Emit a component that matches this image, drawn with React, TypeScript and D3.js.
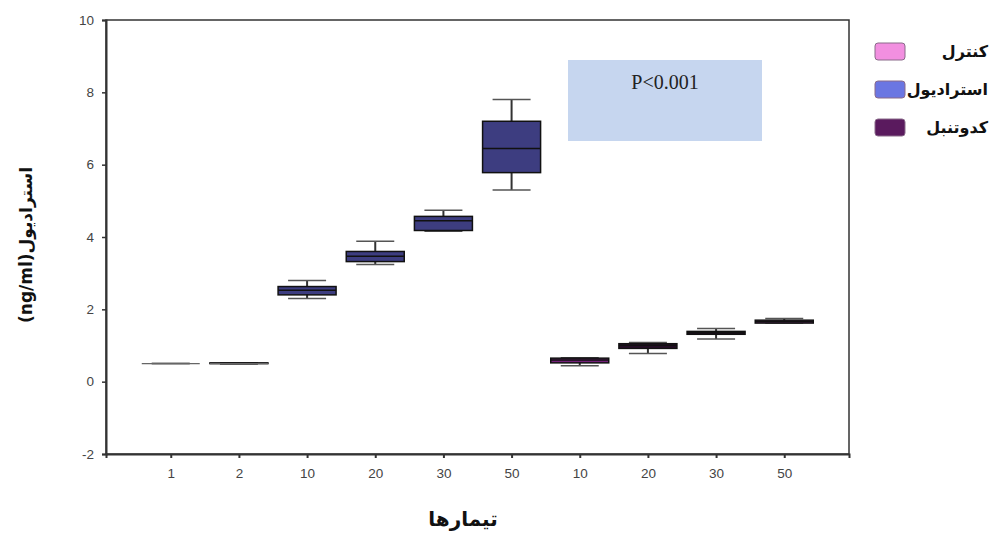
import React, { useRef, useEffect } from 'react';
import * as d3 from 'd3';

// treatment labels along the x axis (doses repeat for the two treated groups)
const doses = ['1', '2', '10', '20', '30', '50', '10', '20', '30', '50'];
const groupOf = ['control', 'control', 'estradiol', 'estradiol', 'estradiol', 'estradiol', 'kadotanbal', 'kadotanbal', 'kadotanbal', 'kadotanbal'];

// box statistics (ng/ml)
const mins = [0.5, 0.49, 2.3, 3.24, 4.16, 5.3, 0.44, 0.78, 1.18, 1.62];
const q1s = [0.5, 0.5, 2.4, 3.32, 4.18, 5.78, 0.52, 0.92, 1.31, 1.62];
const medians = [0.5, 0.5, 2.53, 3.47, 4.45, 6.45, 0.6, 1.0, 1.36, 1.66];
const q3s = [0.5, 0.52, 2.63, 3.6, 4.57, 7.2, 0.65, 1.05, 1.39, 1.7];
const maxs = [0.5, 0.52, 2.8, 3.88, 4.74, 7.8, 0.66, 1.08, 1.47, 1.75];

const yTicks = [-2, 0, 2, 4, 6, 8, 10];

const legendKeys = ['control', 'estradiol', 'kadotanbal'];
const legendLabels = ['كنترل', 'استراديول', 'كدوتنبل'];

const legendColor = { control: '#f28fe0', estradiol: '#6b76e2', kadotanbal: '#5a1a5e' };
const boxFill = ['#f28fe0', '#f28fe0', '#3d3d80', '#3d3d80', '#3d3d80', '#3d3d80', '#74207a', '#2a0d2c', '#1e0a20', '#8a2c8e'];

const App = () => {
    const svgRef = useRef(null);

    useEffect(() => {
        drawChart();
    }, []);

    const drawChart = () => {
        const svg = d3.select(svgRef.current);
        svg.selectAll('*').remove();

        const width = 993;
        const height = 535;
        const left = 106, right = 849, top = 20, bottom = 454;

        const x = d3.scalePoint()
            .domain(doses.map((d, i) => String(i)))
            .range([left, right])
            .padding(0.95);

        const y = d3.scaleLinear()
            .domain([-2, 10])
            .range([bottom, top]);

        svg.attr('width', width).attr('height', height);

        // p-value box
        svg.append('rect')
            .attr('x', 568).attr('y', 60)
            .attr('width', 194).attr('height', 81)
            .attr('fill', '#c6d6ef');
        svg.append('text')
            .attr('x', 665).attr('y', 89)
            .attr('text-anchor', 'middle')
            .style('font-family', '"Liberation Serif", serif')
            .style('font-size', '20px')
            .attr('fill', '#222')
            .text('P<0.001');

        // frame
        svg.append('rect')
            .attr('x', left).attr('y', top)
            .attr('width', right - left).attr('height', bottom - top)
            .attr('fill', 'none')
            .attr('stroke', '#333')
            .attr('stroke-width', 1.5);

        // y axis
        const yAxis = svg.append('g')
            .attr('transform', `translate(${left},0)`)
            .call(d3.axisLeft(y).tickValues(yTicks).tickSize(4).tickPadding(8).tickFormat(d => String(d)));
        yAxis.select('.domain').attr('stroke', '#333').attr('stroke-width', 2);
        yAxis.selectAll('line').attr('stroke', '#333').attr('stroke-width', 1.5);
        yAxis.selectAll('text')
            .style('font-family', '"Liberation Sans", Arial, sans-serif')
            .style('font-size', '13.5px')
            .attr('fill', '#444');

        // x axis
        const xAxis = svg.append('g')
            .attr('transform', `translate(0,${bottom})`)
            .call(d3.axisBottom(x).tickSize(4).tickPadding(10).tickFormat(i => doses[+i]));
        xAxis.select('.domain').attr('stroke', '#333').attr('stroke-width', 2);
        xAxis.selectAll('line').attr('stroke', '#333').attr('stroke-width', 2);
        xAxis.selectAll('text')
            .style('font-family', '"Liberation Sans", Arial, sans-serif')
            .style('font-size', '13.5px')
            .attr('fill', '#444');

        // boxes
        const boxW = 58;
        const capW = 38;
        const boxes = svg.append('g')
            .selectAll('g')
            .data(doses.map((d, i) => i))
            .enter().append('g')
            .attr('transform', i => `translate(${x(String(i))},0)`);

        boxes.append('line')
            .attr('x1', 0).attr('x2', 0)
            .attr('y1', i => y(maxs[i])).attr('y2', i => y(mins[i]))
            .attr('stroke', '#333').attr('stroke-width', 2);
        boxes.append('line')
            .attr('x1', -capW / 2).attr('x2', capW / 2)
            .attr('y1', i => y(maxs[i])).attr('y2', i => y(maxs[i]))
            .attr('stroke', '#555').attr('stroke-width', 1.5);
        boxes.append('line')
            .attr('x1', -capW / 2).attr('x2', capW / 2)
            .attr('y1', i => y(mins[i])).attr('y2', i => y(mins[i]))
            .attr('stroke', '#555').attr('stroke-width', 1.5);
        boxes.filter(i => q3s[i] > q1s[i]).append('rect')
            .attr('x', -boxW / 2)
            .attr('y', i => y(q3s[i]))
            .attr('width', boxW)
            .attr('height', i => y(q1s[i]) - y(q3s[i]))
            .attr('fill', i => boxFill[i])
            .attr('stroke', '#111')
            .attr('stroke-width', 1.5);
        boxes.append('line')
            .attr('x1', -boxW / 2).attr('x2', boxW / 2)
            .attr('y1', i => y(medians[i])).attr('y2', i => y(medians[i]))
            .attr('stroke', i => groupOf[i] === 'control' ? '#666' : '#111')
            .attr('stroke-width', i => groupOf[i] === 'control' ? 1.2 : 1.5);

        // legend
        const legend = svg.append('g')
            .selectAll('g')
            .data(legendKeys)
            .enter().append('g')
            .attr('transform', (d, i) => `translate(875,${43 + i * 38})`);
        legend.append('rect')
            .attr('width', 30).attr('height', 17)
            .attr('rx', 3)
            .attr('fill', d => legendColor[d])
            .attr('stroke', '#8a6a8a')
            .attr('stroke-width', 1);
        legend.append('text')
            .attr('x', 113).attr('y', 14)
            .attr('text-anchor', 'end')
            .style('font-family', '"DejaVu Sans", sans-serif')
            .style('font-weight', 'bold')
            .style('font-size', '16px')
            .attr('fill', '#111')
            .text((d, i) => legendLabels[i]);

        // axis titles
        svg.append('text')
            .attr('transform', 'translate(32,245) rotate(-90)')
            .attr('text-anchor', 'middle')
            .style('font-family', '"DejaVu Sans", sans-serif')
            .style('font-weight', 'bold')
            .style('font-size', '17px')
            .attr('fill', '#111')
            .text('(ng/ml)استراديول');

        svg.append('text')
            .attr('x', 463)
            .attr('y', 526)
            .attr('text-anchor', 'middle')
            .style('font-family', '"DejaVu Sans", sans-serif')
            .style('font-weight', 'bold')
            .style('font-size', '20px')
            .attr('fill', '#111')
            .text('تیمارها');
    };

    return (
        <svg ref={svgRef} style={{ position: 'absolute', left: 0, top: 0 }}></svg>
    );
};

export default App;
